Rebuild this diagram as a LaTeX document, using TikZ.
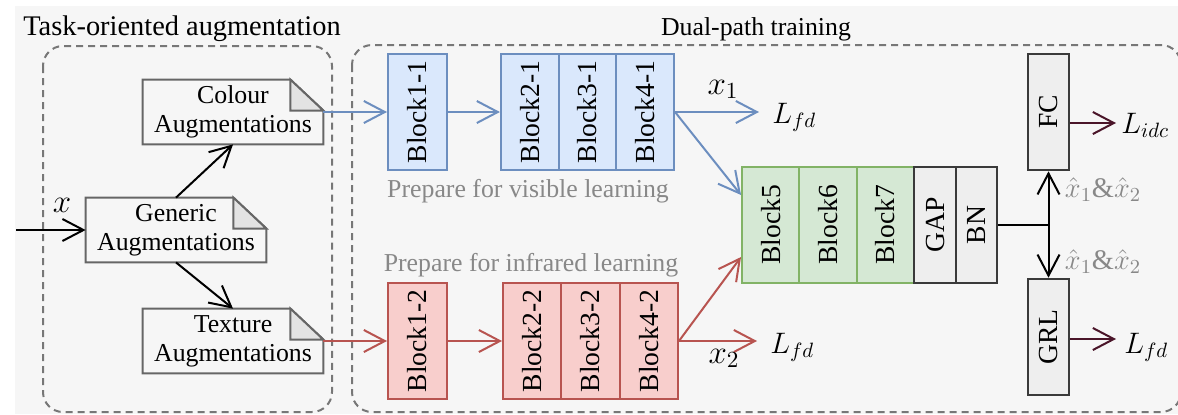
\RequirePackage{fix-cm}
\documentclass[tikz,border=0pt]{standalone}
\usepackage{fontspec}
\setmainfont{Liberation Serif}
\usepackage{graphicx}
\usetikzlibrary{arrows.meta,calc}

\definecolor{bgc}{HTML}{F6F6F6}
\definecolor{dashc}{HTML}{777777}
\definecolor{docline}{HTML}{666666}
\definecolor{foldfill}{HTML}{E3E3E3}
\definecolor{blueline}{HTML}{6C8EBF}
\definecolor{bluefill}{HTML}{DAE8FC}
\definecolor{redline}{HTML}{B85450}
\definecolor{redfill}{HTML}{F8CECC}
\definecolor{greenline}{HTML}{82B366}
\definecolor{greenfill}{HTML}{D5E8D4}
\definecolor{headline}{HTML}{3A3A3A}
\definecolor{headfill}{HTML}{EEEEEE}
\definecolor{lossline}{HTML}{4A1529}
\definecolor{notec}{HTML}{888888}

% outline of a note with a folded top-right corner
\newcommand\foldnote[1]{%
  \draw[docline, line width=1pt, line join=miter]
    (#1.south west) -- (#1.north west) -- ($(#1.north east)+(-33,0)$)
    -- ($(#1.north east)+(0,31)$) -- (#1.south east) -- cycle;
  \draw[docline, line width=1pt, fill=foldfill, line join=miter]
    ($(#1.north east)+(-33,0)$) -- ($(#1.north east)+(-33,31)$)
    -- ($(#1.north east)+(0,31)$) -- cycle;}

\begin{document}
\begin{tikzpicture}[x=0.5pt,y=-0.5pt,
  bodyfont/.style={font=\fontsize{12.9}{14.5}\selectfont},
  blockfont/.style={font=\fontsize{13.8}{15}\selectfont},
  feat/.style={font=\fontsize{16.5}{18}\selectfont, inner sep=0pt},
  group/.style={draw=dashc, line width=1pt, dash pattern=on 3.5pt off 2.5pt, rounded corners=10pt},
  doc/.style={rectangle, minimum width=90pt, minimum height=32pt, inner sep=0pt, align=center, bodyfont},
  blk/.style={rectangle, line width=1pt, inner sep=0pt, minimum height=58pt, blockfont},
  vis/.style={blk, draw=blueline, fill=bluefill},
  ir/.style={blk, draw=redline, fill=redfill},
  shared/.style={blk, draw=greenline, fill=greenfill, minimum width=28.67pt},
  head/.style={blk, draw=headline, fill=headfill, line width=1.3pt},
  note/.style={bodyfont, text=notec, anchor=base},
  pair/.style={font=\fontsize{14.2}{16}\selectfont, text=notec, anchor=base, inner sep=0pt},
  loss/.style={font=\fontsize{14.8}{17}\selectfont, inner ysep=0pt, anchor=base west},
  arr/.style={-{Straight Barb[length=10.5pt,width=11pt]}, line width=1pt},
]
\useasboundingbox (0,0) rectangle (1178,414);
\clip (0,0) rectangle (1178,414);
\fill[white] (0,0) rectangle (1178,414);
\fill[bgc] (15,6) rectangle (1178,414);

% group frames and titles
\draw[group] (43,46) rectangle (332,412);
\draw[group] (352,45) rectangle (1181,412);
\node[font=\fontsize{14.2}{16}\selectfont, anchor=base] (ttask) at (182,35.5) {Task-oriented augmentation};
\node[bodyfont, anchor=base] (tdual) at (756,35.5) {Dual-path training};

% augmentation notes
\node[doc] (gen) at (176,230) {Generic\\Augmentations};
\node[doc] (col) at (233,112) {Colour\\Augmentations};
\node[doc] (tex) at (233,341) {Texture\\Augmentations};
\foldnote{gen}
\foldnote{col}
\foldnote{tex}

% visible branch
\node[vis, minimum width=29.5pt] (b11) at (417.5,112) {\rotatebox{90}{Block1-1}};
\node[vis, minimum width=28.85pt] (b21) at (529.8,112) {\rotatebox{90}{Block2-1}};
\node[vis, minimum width=28.85pt] (b31) at (587.5,112) {\rotatebox{90}{Block3-1}};
\node[vis, minimum width=28.85pt] (b41) at (645.2,112) {\rotatebox{90}{Block4-1}};
\node[note] (visnote) at (528,197) {Prepare for visible learning};

% infrared branch
\node[ir, minimum width=29.5pt] (b12) at (417.5,341) {\rotatebox{90}{Block1-2}};
\node[ir, minimum width=29.17pt] (b22) at (532.2,341) {\rotatebox{90}{Block2-2}};
\node[ir, minimum width=29.17pt] (b32) at (590.5,341) {\rotatebox{90}{Block3-2}};
\node[ir, minimum width=29.17pt] (b42) at (648.8,341) {\rotatebox{90}{Block4-2}};
\node[note] (irnote) at (531,271) {Prepare for infrared learning};

% shared trunk
\node[shared] (b5) at (770.7,225) {\rotatebox{90}{Block5}};
\node[shared] (b6) at (828,225) {\rotatebox{90}{Block6}};
\node[shared] (b7) at (885.3,225) {\rotatebox{90}{Block7}};
\node[head, minimum width=21pt] (gap) at (935,225) {\rotatebox{90}{GAP}};
\node[head, minimum width=20.5pt] (bn) at (976.5,225) {\rotatebox{90}{BN}};
\node[head, minimum width=20.5pt] (fc) at (1048.5,112) {\rotatebox{90}{FC}};
\node[head, minimum width=20.5pt] (grl) at (1048.5,337) {\rotatebox{90}{GRL}};

% loss labels
\node[loss, inner xsep=6.5pt] (lfd1) at (759,123) {$L_{fd}$};
\node[loss, inner xsep=6.5pt] (lfd2) at (757,353) {$L_{fd}$};
\node[loss, inner xsep=2.5pt] (lidc) at (1116,133) {$L_{idc}$};
\node[loss, inner xsep=4pt] (lfd3) at (1116,353) {$L_{fd}$};

% input
\coordinate (in) at (16,230);
\draw[arr] (in) -- (gen.west);
\node[feat] (xin) at (62,205) {$x$};
\draw[arr] (gen.north) -- (col.south);
\draw[arr] (gen.south) -- (tex.north);

% visible path arrows
\draw[arr, blueline] (col.east) -- (b11.west);
\draw[arr, blueline] (b11.east) -- (b21.west);
\draw[arr, blueline] (b41.east) -- (b41.east -| lfd1.west);
\coordinate (b5in1) at ($(b5.west)+(0,-30)$);
\draw[arr, blueline] (b41.east) -- (b5in1);
\node[feat, anchor=base] (x1) at (723,94) {$x_1$};

% infrared path arrows
\draw[arr, redline] (tex.east) -- (b12.west);
\draw[arr, redline] (b12.east) -- (b22.west);
\draw[arr, redline] (b42.east) -- (b42.east -| lfd2.west);
\coordinate (b5in2) at ($(b5.west)+(0,32)$);
\draw[arr, redline] (b42.east) -- (b5in2);
\node[feat, anchor=base] (x2) at (724,363) {$x_2$};

% heads
\draw[line width=1pt] (bn.east) -- (bn.east -| fc.south);
\draw[arr] (bn.east -| fc.south) -- (fc.south);
\draw[arr] (bn.east -| grl.north) -- (grl.north);
\node[pair] (h1) at (1103,197) {$\hat{x}_1\&\hat{x}_2$};
\node[pair] (h2) at (1103,269) {$\hat{x}_1\&\hat{x}_2$};
\coordinate (fcout) at ($(fc.east)+(0,11)$);
\coordinate (grlout) at ($(grl.east)+(0,2)$);
\draw[arr, lossline] (fcout) -- (fcout -| lidc.west);
\draw[arr, lossline] (grlout) -- (grlout -| lfd3.west);
\end{tikzpicture}
\end{document}
